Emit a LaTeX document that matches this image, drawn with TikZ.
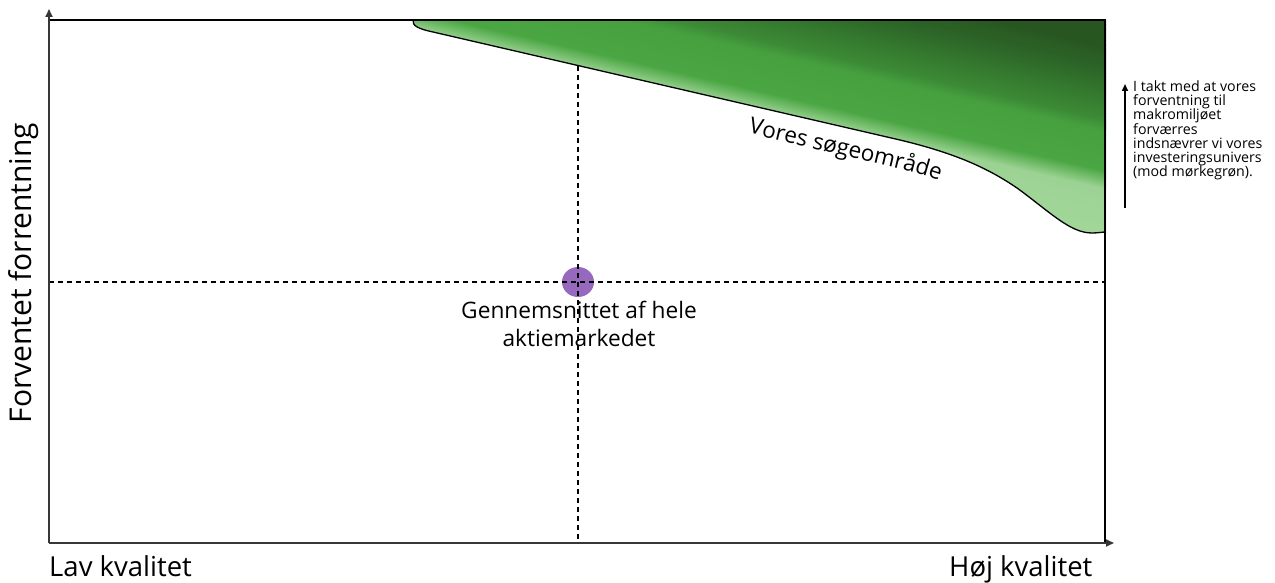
\documentclass[tikz,border=0pt]{standalone}
\usepackage{fontspec}
\setmainfont{Open Sans}
\usetikzlibrary{arrows.meta,decorations.text,shapes.geometric}
\definecolor{gA}{RGB}{167,217,158}
\definecolor{gB}{RGB}{156,211,148}
\definecolor{gC}{RGB}{74,166,66}
\definecolor{gD}{RGB}{70,160,62}
\definecolor{gE}{RGB}{60,138,54}
\definecolor{gF}{RGB}{52,120,46}
\definecolor{gG}{RGB}{45,102,40}
\definecolor{gH}{RGB}{40,86,33}
\definecolor{axisgray}{RGB}{55,55,55}
\definecolor{dotpurple}{RGB}{150,104,190}
\tikzset{
  axisline/.style={draw=axisgray, line width=1.8, -{Triangle[length=8,width=7]}},
  frameline/.style={draw=black, line width=1.8},
  guide/.style={draw=black, line width=1.1, dash pattern=on 5 off 4},
  boundary/.style={draw=black, line width=1.3},
  lbl/.style={inner sep=0, text=black},
  notearrow/.style={draw=black, line width=1.5, -{Triangle[length=7,width=6]}},
}
\begin{document}
\begin{tikzpicture}[x=1pt,y=1pt]
\useasboundingbox (0,0) rectangle (1275,-583);
% green search region
\begin{scope}
\clip (413,-20) .. controls (412,-26) and (419,-29) .. (433,-32) -- (900,-140)
  .. controls (950,-152) and (985,-166) .. (1017,-188)
  .. controls (1050,-212) and (1070,-233) .. (1092,-233)
  .. controls (1098,-233) and (1102,-232) .. (1106,-232) -- (1106,-20) -- cycle;
\begin{scope}[shift={(433,-32)},rotate=-13]
\foreach \va/\vb/\ca/\cb in {-80/-2/gA/gB, -2/16/gB/gC, 16/55/gC/gD, 55/66/gD/gE, 66/90/gE/gF, 90/112/gF/gG, 112/138/gG/gH, 138/220/gH/gH}{
  \foreach \i in {0,...,15}{
    \pgfmathsetmacro\ya{\va+(\vb-\va)*\i/16}
    \pgfmathsetmacro\yb{\va+(\vb-\va)*(\i+1)/16+0.6}
    \pgfmathsetmacro\p{100*(\i+0.5)/16}
    \fill[\cb!\p!\ca] (-60,\ya) rectangle (780,\yb);
  }
}
\end{scope}
\end{scope}
\draw[boundary] (413,-20) .. controls (412,-26) and (419,-29) .. (433,-32) -- (900,-140)
  .. controls (950,-152) and (985,-166) .. (1017,-188)
  .. controls (1050,-212) and (1070,-233) .. (1092,-233)
  .. controls (1098,-233) and (1102,-232) .. (1106,-232);
\path[decorate, decoration={text along path, text align=left,
  text={|\fontsize{22.5}{27}\selectfont|Vores søgeområde}}]
  (748,-133) -- (892,-167) .. controls (942,-179) and (977,-193) .. (1009,-215);
% average point
\node[ellipse, fill=dotpurple, minimum width=32, minimum height=30, inner sep=0] (avg) at (578,-282) {};
% coordinates
\coordinate (origin) at (49,-543);
\coordinate (ytip) at (49,-9);
\coordinate (xtip) at (1114,-543);
\coordinate (ftl) at (49,-20);
\coordinate (ftr) at (1105,-20);
\coordinate (fbr) at (1105,-543);
\coordinate (hL) at (49,-282);
\coordinate (hR) at (1105,-282);
\coordinate (vT) at (578,-66);
\coordinate (vB) at (578,-543);
\coordinate (nb) at (1125,-208);
\coordinate (nt) at (1125,-84);
% guides
\draw[guide] (hL) -- (hR);
\draw[guide] (vT) -- (vB);
% frame and axes
\draw[frameline] (ftl) -- (ftr) -- (fbr);
\draw[axisline] (origin) -- (ytip);
\draw[axisline] (origin) -- (xtip);
\draw[notearrow] (nb) -- (nt);
% labels
\node[lbl, anchor=base west, font=\fontsize{27.5}{33}\selectfont] (lav) at (49,-576) {Lav kvalitet};
\node[lbl, anchor=base west, font=\fontsize{27.5}{33}\selectfont] (hoj) at (949,-576) {Høj kvalitet};
\node[lbl, rotate=90, anchor=base, font=\fontsize{30}{36}\selectfont] (yl) at (31,-273) {Forventet forrentning};
\node[lbl, anchor=base, align=center, font=\fontsize{22.7}{28}\selectfont] (avgl) at (579,-346) {Gennemsnittet af hele\\aktiemarkedet};
\node[lbl, anchor=base west, align=left, font=\fontsize{14.2}{14.3}\selectfont] (note) at (1133,-177) {I takt med at vores\\forventning til\\makromiljøet\\forværres\\indsnævrer vi vores\\investeringsunivers\\(mod mørkegrøn).};
\end{tikzpicture}
\end{document}
